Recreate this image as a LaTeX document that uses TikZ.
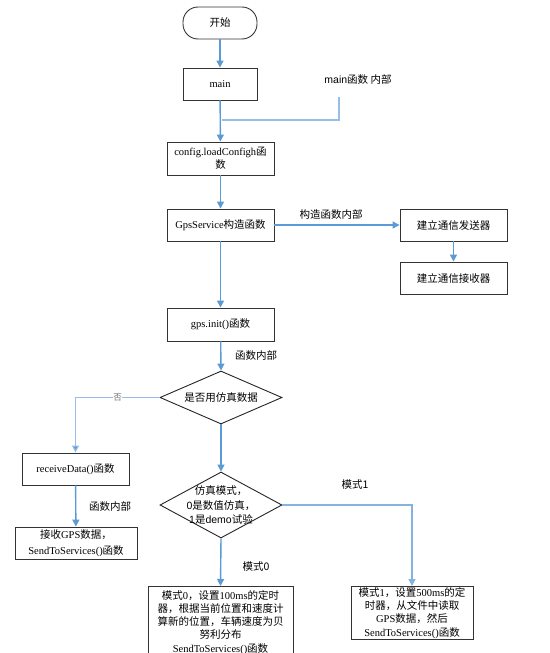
\documentclass[tikz,border=0pt]{standalone}
\usepackage{fontspec}
\setmainfont{Liberation Serif}
\newfontfamily\cjk{Noto Sans CJK SC}
\newfontfamily\sansf{Liberation Sans}
\newcommand\zh[1]{{\cjk #1}}
\usetikzlibrary{arrows.meta,shapes.geometric}
\definecolor{arr}{RGB}{91,155,213}
\definecolor{larr}{RGB}{150,190,230}
\tikzset{
  box/.style={draw=black!80, line width=0.9pt, align=center, font=\fontsize{10.5}{13.2}\selectfont, inner sep=0pt},
  flow/.style={draw=arr, line width=1.4pt, -{Triangle[width=7pt,length=7pt]}},
  lflow/.style={draw=larr, line width=1.1pt},
  lbl/.style={font=\fontsize{10.5}{12}\selectfont, inner sep=1pt},
  dia/.style={draw=black!85, line width=0.9pt, diamond, inner sep=0pt},
}
\begin{document}
\begin{tikzpicture}[x=1pt,y=-1pt]
\useasboundingbox[fill=white] (0,0) rectangle (549,653);
\clip (0,0) rectangle (549,653);
% nodes
\node[box, rounded corners=15pt, minimum width=74pt, minimum height=32pt] (start) at (220,23) {\zh{开始}};
\node[box, minimum width=74pt, minimum height=32pt] (main) at (220,84) {main};
\node[lbl] (mainin) at (358,80) {{\sansf main}\zh{函数 内部}};
\coordinate (mi1) at (339,97);
\coordinate (mi2) at (339,120);
\coordinate (mi3) at (222,120);
\node[box, minimum width=107pt, minimum height=33pt] (config) at (220.5,158.5) {config.loadConfigh\zh{函}\\\zh{数}};
\node[box, minimum width=107pt, minimum height=32pt] (gps) at (220.5,225) {GpsService\zh{构造函数}};
\node[box, minimum width=107pt, minimum height=32pt] (send) at (453.5,225) {\zh{建立通信发送器}};
\node[box, minimum width=107pt, minimum height=32pt] (recv) at (453.5,278) {\zh{建立通信接收器}};
\node[lbl] (ctorin) at (331,215) {\zh{构造函数内部}};
\node[box, minimum width=107pt, minimum height=33pt] (init) at (220.5,324.5) {gps.init()\zh{函数}};
\node[lbl] (initin) at (256,355) {\zh{函数内部}};
\node[dia, minimum width=122pt, minimum height=53pt] (d1) at (221,397.5) {};
\node[lbl] at (d1) {\zh{是否用仿真数据}};
\node[box, minimum width=107pt, minimum height=32pt] (rd) at (75.5,469) {receiveData()\zh{函数}};
\node[box, minimum width=122pt, minimum height=32pt, font=\fontsize{10.5}{15.5}\selectfont] (gpsd) at (76,543) {\zh{接收}GPS\zh{数据，}\\SendToServices()\zh{函数}};
\node[lbl] (rdin) at (110,506) {\zh{函数内部}};
\node[dia, minimum width=122pt, minimum height=66pt] (d2) at (221,505) {};
\node[align=center, font=\fontsize{10.5}{14.5}\selectfont, inner sep=0pt] at (d2) {\zh{仿真模式，}\\{\sansf 0}\zh{是数值仿真，}\\{\sansf 1}\zh{是}{\sansf demo}\zh{试验}};
\node[box, anchor=north, minimum width=145pt, minimum height=72pt, inner sep=0pt] (m0) at (220.5,586) {\zh{模式}0\zh{，设置}100ms\zh{的定时}\\\zh{器，根据当前位置和速度计}\\\zh{算新的位置，车辆速度为贝}\\\zh{努利分布}\\SendToServices()\zh{函数}};
\node[box, anchor=north, minimum width=122pt, minimum height=53pt, inner sep=0pt] (m1) at (412,586) {\zh{模式}1\zh{，设置}500ms\zh{的定}\\\zh{时器，从文件中读取}\\GPS\zh{数据，然后}\\SendToServices()\zh{函数}};
\node[lbl] (l0) at (256,567) {\zh{模式0}};
\node[lbl] (l1) at (355,485) {\zh{模式1}};
% connectors
\draw[flow] (start) -- (main);
\draw[flow] (main) -- (config);
\draw[lflow] (mi1) -- (mi2) -- (mi3);
\draw[flow] (config) -- (gps);
\draw[flow] (gps) -- (send);
\draw[flow] (send) -- (recv);
\draw[flow] (gps) -- (init);
\draw[flow] (init) -- (d1.north);
\draw[lflow, -{Triangle[width=7pt,length=7pt,fill=arr]}] (d1.west) -| node[pos=0.25, fill=white, inner sep=0.5pt, text=black!55, font=\fontsize{8.5}{9}\selectfont] {\zh{否}} (rd.north);
\draw[flow] (rd) -- (gpsd);
\draw[flow] (d1.south) -- (d2.north);
\draw[flow] (d2.south) -- (m0.north);
\draw[flow, draw=larr!70!arr] (d2.east) -| (m1.north);
\end{tikzpicture}
\end{document}
